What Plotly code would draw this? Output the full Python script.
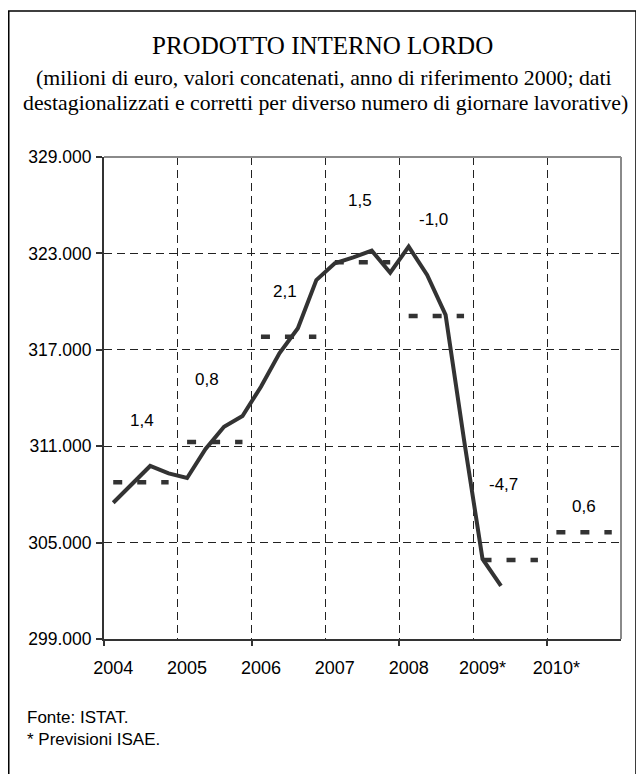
import plotly.graph_objects as go

# ---------------- data ----------------
years = ["2004", "2005", "2006", "2007", "2008", "2009*", "2010*"]

# quarterly GDP (millions of euro), 2004Q1 .. 2009Q2
quarterly_gdp = [307480, 308630, 309770, 309310,
                 309020, 310830, 312210, 312880,
                 314700, 316780, 318340, 321340,
                 322380, 322750, 323170, 321800,
                 323420, 321660, 319170, 311390,
                 303980, 302300]

# annual average levels (dashed segments), 2004 .. 2010
annual_avg = [308750, 311260, 317820, 322450, 319100, 303920, 305640]

# annual growth rates labels
growth_labels = ["1,4", "0,8", "2,1", "1,5", "-1,0", "-4,7", "0,6"]
growth_label_x = [1.56, 5.08, 9.30, 13.37, 17.34, 21.13, 25.50]
growth_label_y = [312630, 315180, 320620, 326320, 325080, 308590, 307240]

y_ticks = [299000, 305000, 311000, 317000, 323000, 329000]

# ---------------- build ----------------
n_years = len(years)
q_x = list(range(len(quarterly_gdp)))
ax, ay = [], []
for k, v in enumerate(annual_avg):
    ax += [4 * k, 4 * k + 3, None]
    ay += [v, v, None]

DARK = "#333333"
GRID = "#222222"

fig = go.Figure()
fig.add_trace(go.Scatter(x=ax, y=ay, mode="lines", connectgaps=False,
                         line=dict(color=DARK, width=4.5, dash="9px,15px"),
                         hoverinfo="skip", showlegend=False))
fig.add_trace(go.Scatter(x=q_x, y=quarterly_gdp, mode="lines",
                         line=dict(color=DARK, width=4),
                         hoverinfo="skip", showlegend=False))
fig.add_trace(go.Scatter(x=[None], y=[None], xaxis="x2", yaxis="y",
                         mode="lines", showlegend=False, hoverinfo="skip"))

x_range = [-0.5, 4 * n_years - 0.5]
fig.update_layout(
    width=644, height=774,
    margin=dict(l=96, r=31, t=149, b=143),
    paper_bgcolor="white", plot_bgcolor="white",
    showlegend=False,
    separators=",.",
    font=dict(family="Liberation Sans, Arial, sans-serif", size=17, color="black"),
    xaxis=dict(range=x_range, tickmode="array",
               tickvals=[4 * k for k in range(n_years)], ticktext=years,
               ticks="", showgrid=False, zeroline=False,
               showline=True, linecolor=DARK, linewidth=2,
               ticklabelstandoff=11, tickfont=dict(size=18),
               minor=dict(tickmode="array",
                          tickvals=[4 * k - 0.5 for k in range(1, n_years)],
                          ticks="", showgrid=True, gridcolor=GRID,
                          gridwidth=1, griddash="8px,5px")),
    xaxis2=dict(range=x_range, overlaying="x", anchor="y", side="bottom",
                tickmode="array",
                tickvals=[8 * k - 0.5 for k in range(0, 4)],
                ticks="outside", ticklen=6, tickwidth=1.5, tickcolor=DARK,
                showticklabels=False, showgrid=False, zeroline=False,
                showline=False),
    yaxis=dict(range=[y_ticks[0], y_ticks[-1]], tickmode="array",
               tickvals=y_ticks, tickformat=",d",
               ticks="outside", ticklen=6, tickwidth=1.5, tickcolor=DARK,
               ticklabelstandoff=1, tickfont=dict(size=17.5),
               showgrid=True, gridcolor=GRID, gridwidth=1, griddash="8px,5px",
               zeroline=False, showline=True, linecolor=DARK, linewidth=2),
)

# plot-area top/right border (gray) and outer frame
fig.add_shape(type="line", xref="paper", yref="paper", x0=0, x1=1, y0=1, y1=1,
              line=dict(color="#8a8a8a", width=2))
fig.add_shape(type="line", xref="paper", yref="paper", x0=1, x1=1, y0=0, y1=1,
              line=dict(color="#8a8a8a", width=2))
fig.add_shape(type="rect", xref="paper", yref="paper",
              x0=-0.1842, x1=1.029, y0=-0.35, y1=1.3029,
              line=dict(color="black", width=1.5), fillcolor="rgba(0,0,0,0)")

# growth labels
for t, gx, gy in zip(growth_labels, growth_label_x, growth_label_y):
    fig.add_annotation(x=gx, y=gy, xref="x", yref="y", text=t, showarrow=False,
                       xanchor="center", yanchor="middle",
                       font=dict(size=17, color="black"))

# titles
serif = "Liberation Serif, Times New Roman, serif"
fig.add_annotation(x=0.4217, y=1.2303, xref="paper", yref="paper",
                   text="PRODOTTO INTERNO LORDO", showarrow=False,
                   xanchor="center", yanchor="middle",
                   font=dict(family=serif, size=25, color="black"))
fig.add_annotation(x=0.4246, y=1.163, xref="paper", yref="paper",
                   text="(milioni di euro, valori concatenati, anno di riferimento 2000; dati",
                   showarrow=False, xanchor="center", yanchor="middle",
                   font=dict(family=serif, size=21.8, color="black"))
fig.add_annotation(x=0.4275, y=1.1125, xref="paper", yref="paper",
                   text="destagionalizzati e corretti per diverso numero di giornare lavorative)",
                   showarrow=False, xanchor="center", yanchor="middle",
                   font=dict(family=serif, size=21.8, color="black"))

# footer notes (one text block, two lines)
fig.add_annotation(x=-0.1528, y=-0.1867, xref="paper", yref="paper",
                   text="Fonte: ISTAT.<br>* Previsioni ISAE.", showarrow=False,
                   xanchor="left", yanchor="middle", align="left",
                   font=dict(size=17, color="black"))

fig.write_html("out.html")
